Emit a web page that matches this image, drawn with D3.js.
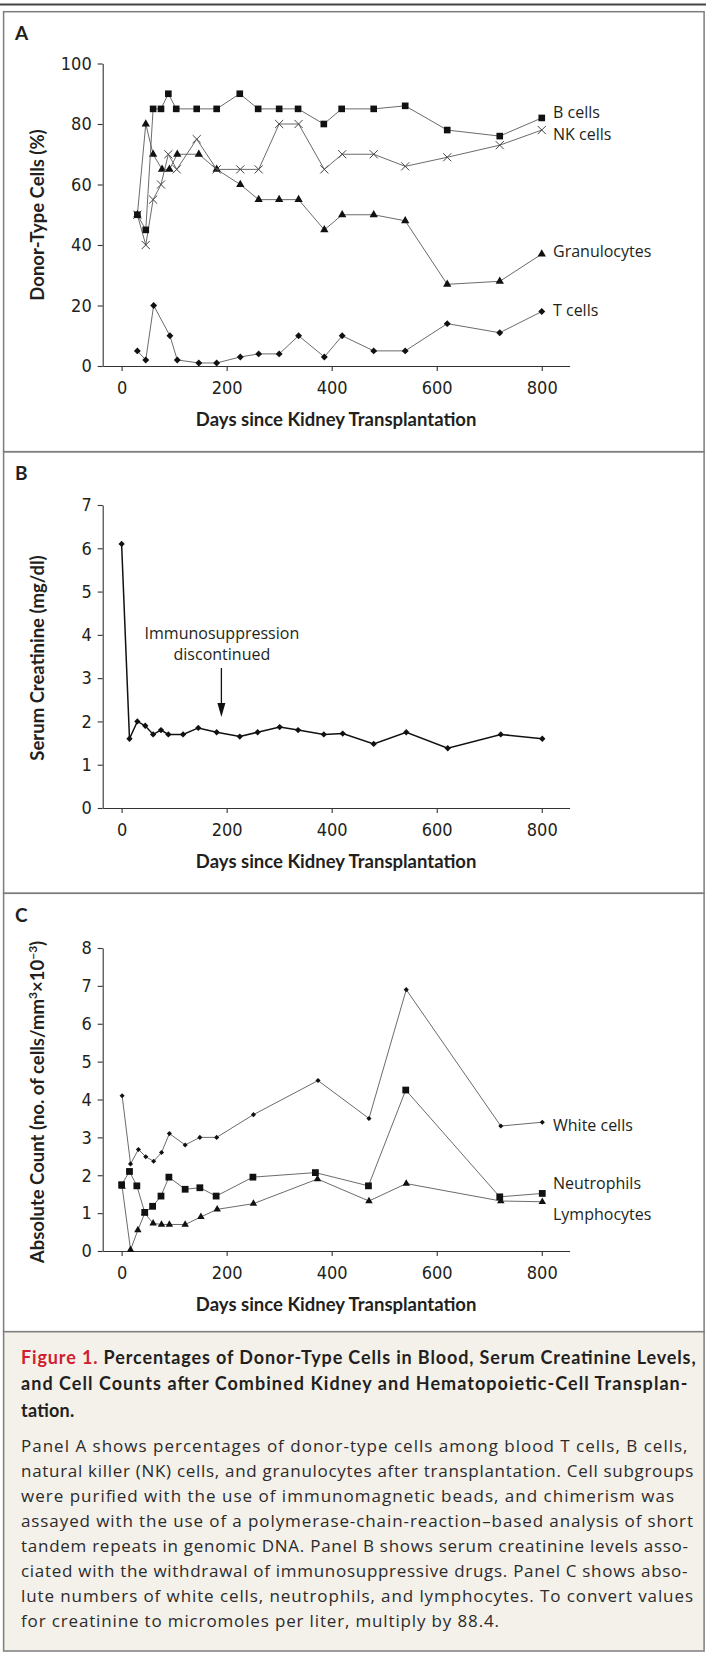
<!DOCTYPE html>
<html>
<head>
<meta charset="utf-8">
<title>donor chimerism after transplantation</title>
<script src="https://d3js.org/d3.v7.min.js"></script>
<style>
  body { margin: 0; background: #fff; }
  svg { display: block; }
</style>
</head>
<body>
<script>
// ---- panel A: donor-type cells (%) ----
const tDays = [30, 46, 61, 92, 106, 147, 181, 226, 261, 300, 337, 386, 420, 480, 540, 620, 720, 800];
const tVals = [5, 2, 20, 10, 2, 1, 1, 3, 4, 4, 10, 3, 10, 5, 5, 14, 11, 18];

const bDays = [30, 46, 60, 75, 89, 104, 143, 181, 225, 260, 300, 336, 385, 419, 480, 540, 620, 720, 800];
const bVals = [50, 45, 85, 85, 90, 85, 85, 85, 90, 85, 85, 85, 80, 85, 85, 86, 78, 76, 82];

const nkDays = [30, 46, 60, 75, 89, 105, 143, 181, 226, 261, 300, 337, 386, 420, 480, 540, 620, 720, 800];
const nkVals = [50, 40, 55, 60, 70, 65, 75, 65, 65, 65, 80, 80, 65, 70, 70, 66, 69, 73, 78];

const grDays = [30, 46, 60, 77, 91, 106, 147, 181, 226, 261, 300, 337, 386, 420, 480, 540, 620, 720, 800];
const grVals = [50, 80, 70, 65, 65, 70, 70, 65, 60, 55, 55, 55, 45, 50, 50, 48, 27, 28, 37];

// ---- panel B: serum creatinine ----
const crDays = [0, 15, 30, 45, 60, 75, 89, 117, 146, 181, 225, 259, 301, 336, 385, 421, 480, 542, 621, 722, 801];
const crVals = [6.1, 1.6, 2.0, 1.9, 1.7, 1.8, 1.7, 1.7, 1.85, 1.75, 1.65, 1.75, 1.87, 1.8, 1.7, 1.72, 1.48, 1.75, 1.38, 1.7, 1.6];
const stopDay = 190;

// ---- panel C: absolute counts ----
const wbcDays = [1, 17, 32, 46, 61, 76, 91, 121, 149, 181, 251, 374, 471, 542, 722, 801];
const wbcVals = [4.1, 2.3, 2.68, 2.49, 2.37, 2.6, 3.1, 2.8, 3.0, 3.0, 3.6, 4.5, 3.5, 6.9, 3.3, 3.4];

const neuDays = [0, 15, 29, 44, 59, 75, 90, 121, 149, 180, 250, 369, 470, 541, 720, 801];
const neuVals = [1.75, 2.1, 1.72, 1.02, 1.18, 1.45, 1.95, 1.63, 1.67, 1.45, 1.95, 2.07, 1.72, 4.25, 1.43, 1.52];

const lymDays = [1, 17, 31, 44, 60, 76, 91, 121, 151, 182, 251, 373, 471, 542, 722, 801];
const lymVals = [1.7, 0.03, 0.55, 1.0, 0.73, 0.70, 0.70, 0.70, 0.9, 1.1, 1.25, 1.9, 1.32, 1.78, 1.32, 1.3];

const xTicks = [0, 200, 400, 600, 800];
const yTicksA = [0, 20, 40, 60, 80, 100];
const yTicksB = [0, 1, 2, 3, 4, 5, 6, 7];
const yTicksC = [0, 1, 2, 3, 4, 5, 6, 7, 8];

const titleLines = [
    "Percentages of Donor-Type Cells in Blood, Serum Creatinine Levels,",
    "and Cell Counts after Combined Kidney and Hematopoietic-Cell Transplan-",
    "tation."
];
const bodyLines = [
    "Panel A shows percentages of donor-type cells among blood T cells, B cells,",
    "natural killer (NK) cells, and granulocytes after transplantation. Cell subgroups",
    "were purified with the use of immunomagnetic beads, and chimerism was",
    "assayed with the use of a polymerase-chain-reaction\u2013based analysis of short",
    "tandem repeats in genomic DNA. Panel B shows serum creatinine levels asso-",
    "ciated with the withdrawal of immunosuppressive drugs. Panel C shows abso-",
    "lute numbers of white cells, neutrophils, and lymphocytes. To convert values",
    "for creatinine to micromoles per liter, multiply by 88.4."
];

const width = 706;
const height = 1653;
const ink = "#231f20";
const frame = "#7d7d7d";
const tickFont = "'Liberation Sans Narrow', 'DejaVu Sans Condensed', 'Roboto', sans-serif";
const textFont = "'Open Sans', 'Noto Sans', sans-serif";
const boldFont = "'Lato', 'Open Sans', sans-serif";

const svg = d3.select("body").append("svg")
    .attr("width", width)
    .attr("height", height);

// frames
svg.append("line").attr("x1", 0).attr("x2", width).attr("y1", 4.5).attr("y2", 4.5)
    .attr("stroke", "#444").attr("stroke-width", 2);
const boxes = [[11.7, 451.7], [451.7, 893.3], [893.3, 1331.7]];
boxes.forEach(b => {
    svg.append("rect").attr("x", 3.6).attr("y", b[0]).attr("width", 700.5).attr("height", b[1] - b[0])
        .attr("fill", "none").attr("stroke", frame).attr("stroke-width", 1.5);
});
svg.append("rect").attr("x", 3.6).attr("y", 1331.7).attr("width", 700.5).attr("height", 319.3)
    .attr("fill", "#f4f1eb").attr("stroke", frame).attr("stroke-width", 1.5);

// shared x scale
const x = d3.scaleLinear().domain([-36, 853]).range([102.7, 569.6]);
const yA = d3.scaleLinear().domain([0, 100]).range([366, 63.5]);
const yB = d3.scaleLinear().domain([0, 7]).range([808, 505]);
const yC = d3.scaleLinear().domain([0, 8]).range([1251, 948]);

function axes(y, yTicks, letter, letterY, yTitle, yTitleCenter) {
    const gx = svg.append("g").attr("transform", "translate(0," + y(0) + ")")
        .call(d3.axisBottom(x).tickValues(xTicks).tickSize(5).tickSizeOuter(0).tickPadding(10));
    const gy = svg.append("g").attr("transform", "translate(" + x.range()[0] + ",0)")
        .call(d3.axisLeft(y).tickValues(yTicks).tickFormat(d3.format("d"))
            .tickSize(5).tickSizeOuter(0).tickPadding(6));
    [gx, gy].forEach(g => {
        g.attr("font-family", tickFont).attr("font-size", 18);
        g.selectAll("path, line").attr("stroke", "#333").attr("stroke-width", 1.1);
        g.selectAll("text").attr("fill", ink);
    });

    svg.append("text")
        .attr("x", (x.range()[0] + x.range()[1]) / 2)
        .attr("y", y(0) + 60)
        .attr("text-anchor", "middle")
        .attr("font-family", boldFont).attr("font-weight", "bold").attr("font-size", 18.5)
        .attr("fill", ink)
        .text("Days since Kidney Transplantation");

    svg.append("text").attr("x", 15).attr("y", letterY)
        .attr("font-family", boldFont).attr("font-weight", "bold").attr("font-size", 19)
        .attr("fill", ink).text(letter);

    const t = svg.append("text")
        .attr("transform", "translate(44," + yTitleCenter + ") rotate(-90)")
        .attr("text-anchor", "middle")
        .attr("font-family", boldFont).attr("font-weight", "bold").attr("font-size", 18.5)
        .attr("fill", ink);
    yTitle.forEach(p => {
        const s = t.append("tspan").text(p[0]);
        if (p[1]) s.attr("font-size", 12).attr("baseline-shift", "super");
    });
}

function series(days, vals, y, opt) {
    const pts = d3.zip(days, vals);
    const line = d3.line().x(d => x(d[0])).y(d => y(d[1]));
    svg.append("path").datum(pts)
        .attr("fill", "none").attr("stroke", opt.stroke).attr("stroke-width", opt.lw)
        .attr("d", line);
    const sym = d3.symbol().type(opt.type).size(opt.size);
    svg.append("g").selectAll("path").data(pts).join("path")
        .attr("transform", d => "translate(" + x(d[0]) + "," + y(d[1]) + ")" + (opt.rot ? " rotate(45)" : ""))
        .attr("d", sym)
        .attr("fill", opt.open ? "none" : "#111")
        .attr("stroke", opt.open ? "#444" : "none")
        .attr("stroke-width", opt.open ? 1 : 0);
}

function label(txt, xp, yp) {
    svg.append("text").attr("x", xp).attr("y", yp)
        .attr("font-family", textFont).attr("font-size", 16).attr("fill", ink)
        .text(txt);
}

// panel A
axes(yA, yTicksA, "A", 39.5, [["Donor-Type Cells (%)"]], 215);
const grey = "#5a5a5a";
series(tDays, tVals, yA, { type: d3.symbolSquare, size: 24, rot: true, stroke: grey, lw: 0.9 });
series(grDays, grVals, yA, { type: d3.symbolTriangle, size: 30, stroke: grey, lw: 0.9 });
series(nkDays, nkVals, yA, { type: d3.symbolTimes, size: 45, open: true, stroke: grey, lw: 0.9 });
series(bDays, bVals, yA, { type: d3.symbolSquare, size: 44, stroke: grey, lw: 0.9 });
label("B cells", 553, 117.5);
label("NK cells", 553, 140);
label("Granulocytes", 553, 257);
label("T cells", 553, 316);

// panel B
axes(yB, yTicksB, "B", 479.5, [["Serum Creatinine (mg/dl)"]], 658);
series(crDays, crVals, yB, { type: d3.symbolSquare, size: 20, rot: true, stroke: "#111", lw: 1.5 });
const ann = svg.append("text").attr("text-anchor", "middle")
    .attr("font-family", textFont).attr("font-size", 16).attr("fill", ink);
ann.append("tspan").attr("x", x(stopDay) + 0.5).attr("y", 639).text("Immunosuppression");
ann.append("tspan").attr("x", x(stopDay) + 0.5).attr("y", 660).text("discontinued");
const ax = x(stopDay);
svg.append("line").attr("x1", ax).attr("x2", ax).attr("y1", 668).attr("y2", 706)
    .attr("stroke", "#111").attr("stroke-width", 1.3);
svg.append("path")
    .attr("d", d3.line()([[ax - 4, 703], [ax + 4, 703], [ax, 717]]) + "Z")
    .attr("fill", "#111");

// panel C
axes(yC, yTicksC, "C", 921.5,
    [["Absolute Count (no. of cells/mm"], ["3", true], ["\u00d710"], ["\u22123", true], [")"]], 1102);
series(lymDays, lymVals, yC, { type: d3.symbolTriangle, size: 24, stroke: grey, lw: 0.9 });
series(neuDays, neuVals, yC, { type: d3.symbolSquare, size: 46, stroke: grey, lw: 0.9 });
series(wbcDays, wbcVals, yC, { type: d3.symbolSquare, size: 13, rot: true, stroke: grey, lw: 0.9 });
label("White cells", 553, 1131);
label("Neutrophils", 553, 1189);
label("Lymphocytes", 553, 1220);

// caption
const titleEnds = [695.6, 687.5, 74.3];
const titleBase = [1363.5, 1390, 1416.5];
titleLines.forEach((s, i) => {
    const t = svg.append("text").attr("x", 21).attr("y", titleBase[i])
        .attr("font-family", boldFont).attr("font-weight", "bold").attr("font-size", 18)
        .attr("fill", ink)
        .attr("textLength", titleEnds[i] - 21).attr("lengthAdjust", "spacing");
    if (i === 0) t.append("tspan").attr("fill", "#cf202f").text("Figure 1. ");
    t.append("tspan").text(s);
});

const bodyEnds = [687.5, 693.4, 674, 693, 688, 687.5, 693, 499];
bodyLines.forEach((s, i) => {
    svg.append("text").attr("x", 21).attr("y", 1451.5 + i * 25)
        .attr("font-family", textFont).attr("font-size", 17).attr("fill", "#2b2b2b")
        .attr("textLength", bodyEnds[i] - 21).attr("lengthAdjust", "spacing")
        .text(s);
});
</script>
</body>
</html>
